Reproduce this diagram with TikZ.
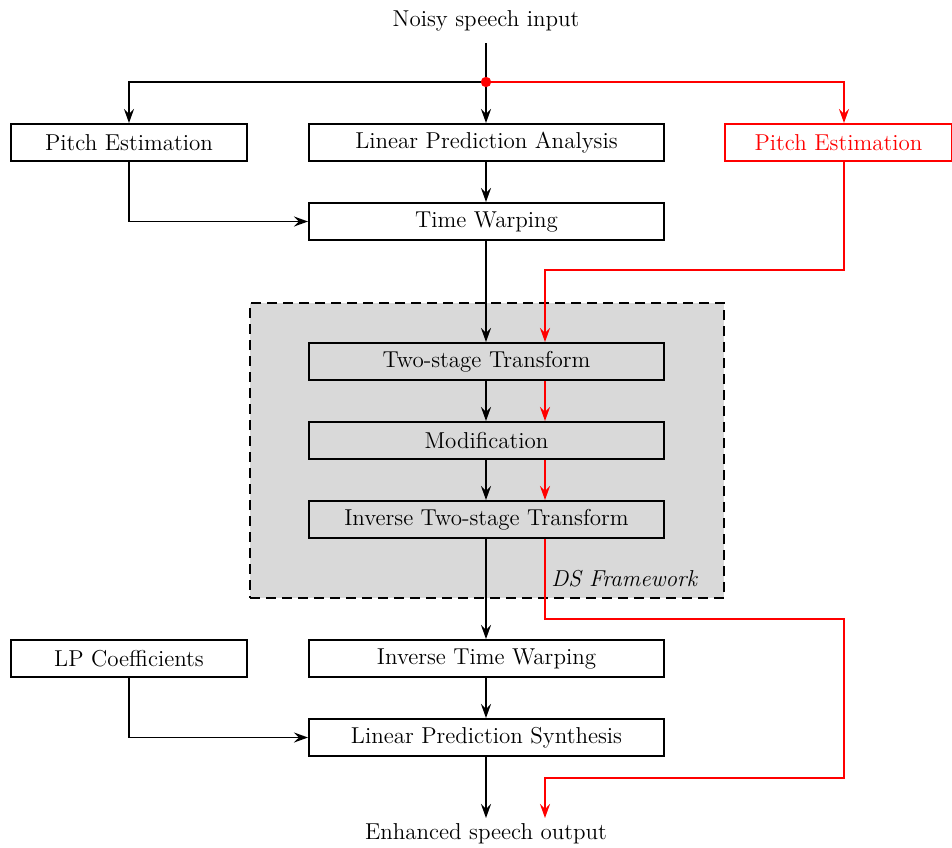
\documentclass[tikz,border=0pt]{standalone}
\usetikzlibrary{arrows.meta}
\begin{document}
\begin{tikzpicture}[x=0.5pt,y=-0.5pt,
  every node/.style={font=\fontsize{11.5}{13}\selectfont},
  blk/.style={draw,line width=1pt,minimum width=177.5pt,minimum height=18.5pt,inner sep=0pt},
  sblk/.style={draw,line width=1pt,minimum width=118pt,minimum height=18.5pt,inner sep=0pt},
  ln/.style={line width=0.9pt},
  arr/.style={ln,-{Stealth[length=7pt,width=5pt,inset=2.5pt]}},
  rarr/.style={arr,red}]
\useasboundingbox (0,0) rectangle (952,847);
% DS framework
\node[draw,line width=1pt,fill=black!15,dash pattern=on 5pt off 3pt,minimum width=237pt,minimum height=147.5pt,inner sep=0pt] (ds) at (487,450.5) {};
\node[font=\fontsize{11.5}{13}\selectfont\itshape,anchor=base east] (dsl) at (704,586) {DS Framework};
% text nodes
\node (in) at (486,21) {Noisy speech input};
\node (out) at (486,834) {Enhanced speech output};
\coordinate (j) at (486,82);
\coordinate (end) at (486,818);
\coordinate (rend) at (545,818);
% boxes
\node[sblk] (pe) at (129,142.5) {Pitch Estimation};
\node[blk] (lpa) at (486.5,142.5) {Linear Prediction Analysis};
\node[sblk,draw=red,text=red,minimum width=113.5pt] (rpe) at (838.5,142.5) {Pitch Estimation};
\node[blk] (tw) at (486.5,221.5) {Time Warping};
\node[blk] (tst) at (486.5,361.5) {Two-stage Transform};
\node[blk] (mod) at (486.5,440.5) {Modification};
\node[blk] (itst) at (486.5,519.5) {Inverse Two-stage Transform};
\node[sblk] (lpc) at (129,658.5) {LP Coefficients};
\node[blk] (itw) at (486.5,658.5) {Inverse Time Warping};
\node[blk] (lps) at (486.5,737.5) {Linear Prediction Synthesis};
% black connectors
\draw[ln,shorten <=2.5pt] (in.south) -- (j);
\draw[arr] (j) -- (lpa.north -| j);
\draw[arr] (j) -| (pe.north);
\draw[arr] (lpa.south -| j) -- (tw.north -| j);
\draw[arr] (pe.south) |- (tw.west);
\draw[arr] (tw.south -| j) -- (tst.north -| j);
\draw[arr] (tst.south -| j) -- (mod.north -| j);
\draw[arr] (mod.south -| j) -- (itst.north -| j);
\draw[arr] (itst.south -| j) -- (itw.north -| j);
\draw[arr] (itw.south -| j) -- (lps.north -| j);
\draw[arr] (lpc.south) |- (lps.west);
\draw[arr] (lps.south -| j) -- (end);
% red connectors
\draw[rarr] (j) -| (rpe.north -| 844,0);
\draw[rarr] (rpe.south -| 844,0) -- (844,270) -- (545,270) -- (tst.north -| 545,0);
\draw[rarr] (tst.south -| 545,0) -- (mod.north -| 545,0);
\draw[rarr] (mod.south -| 545,0) -- (itst.north -| 545,0);
\draw[rarr] (itst.south -| 545,0) -- (545,619) -- (844,619) -- (844,778) -- (545,778) -- (rend);
\fill[red] (j) circle (2.6pt);
\end{tikzpicture}
\end{document}
